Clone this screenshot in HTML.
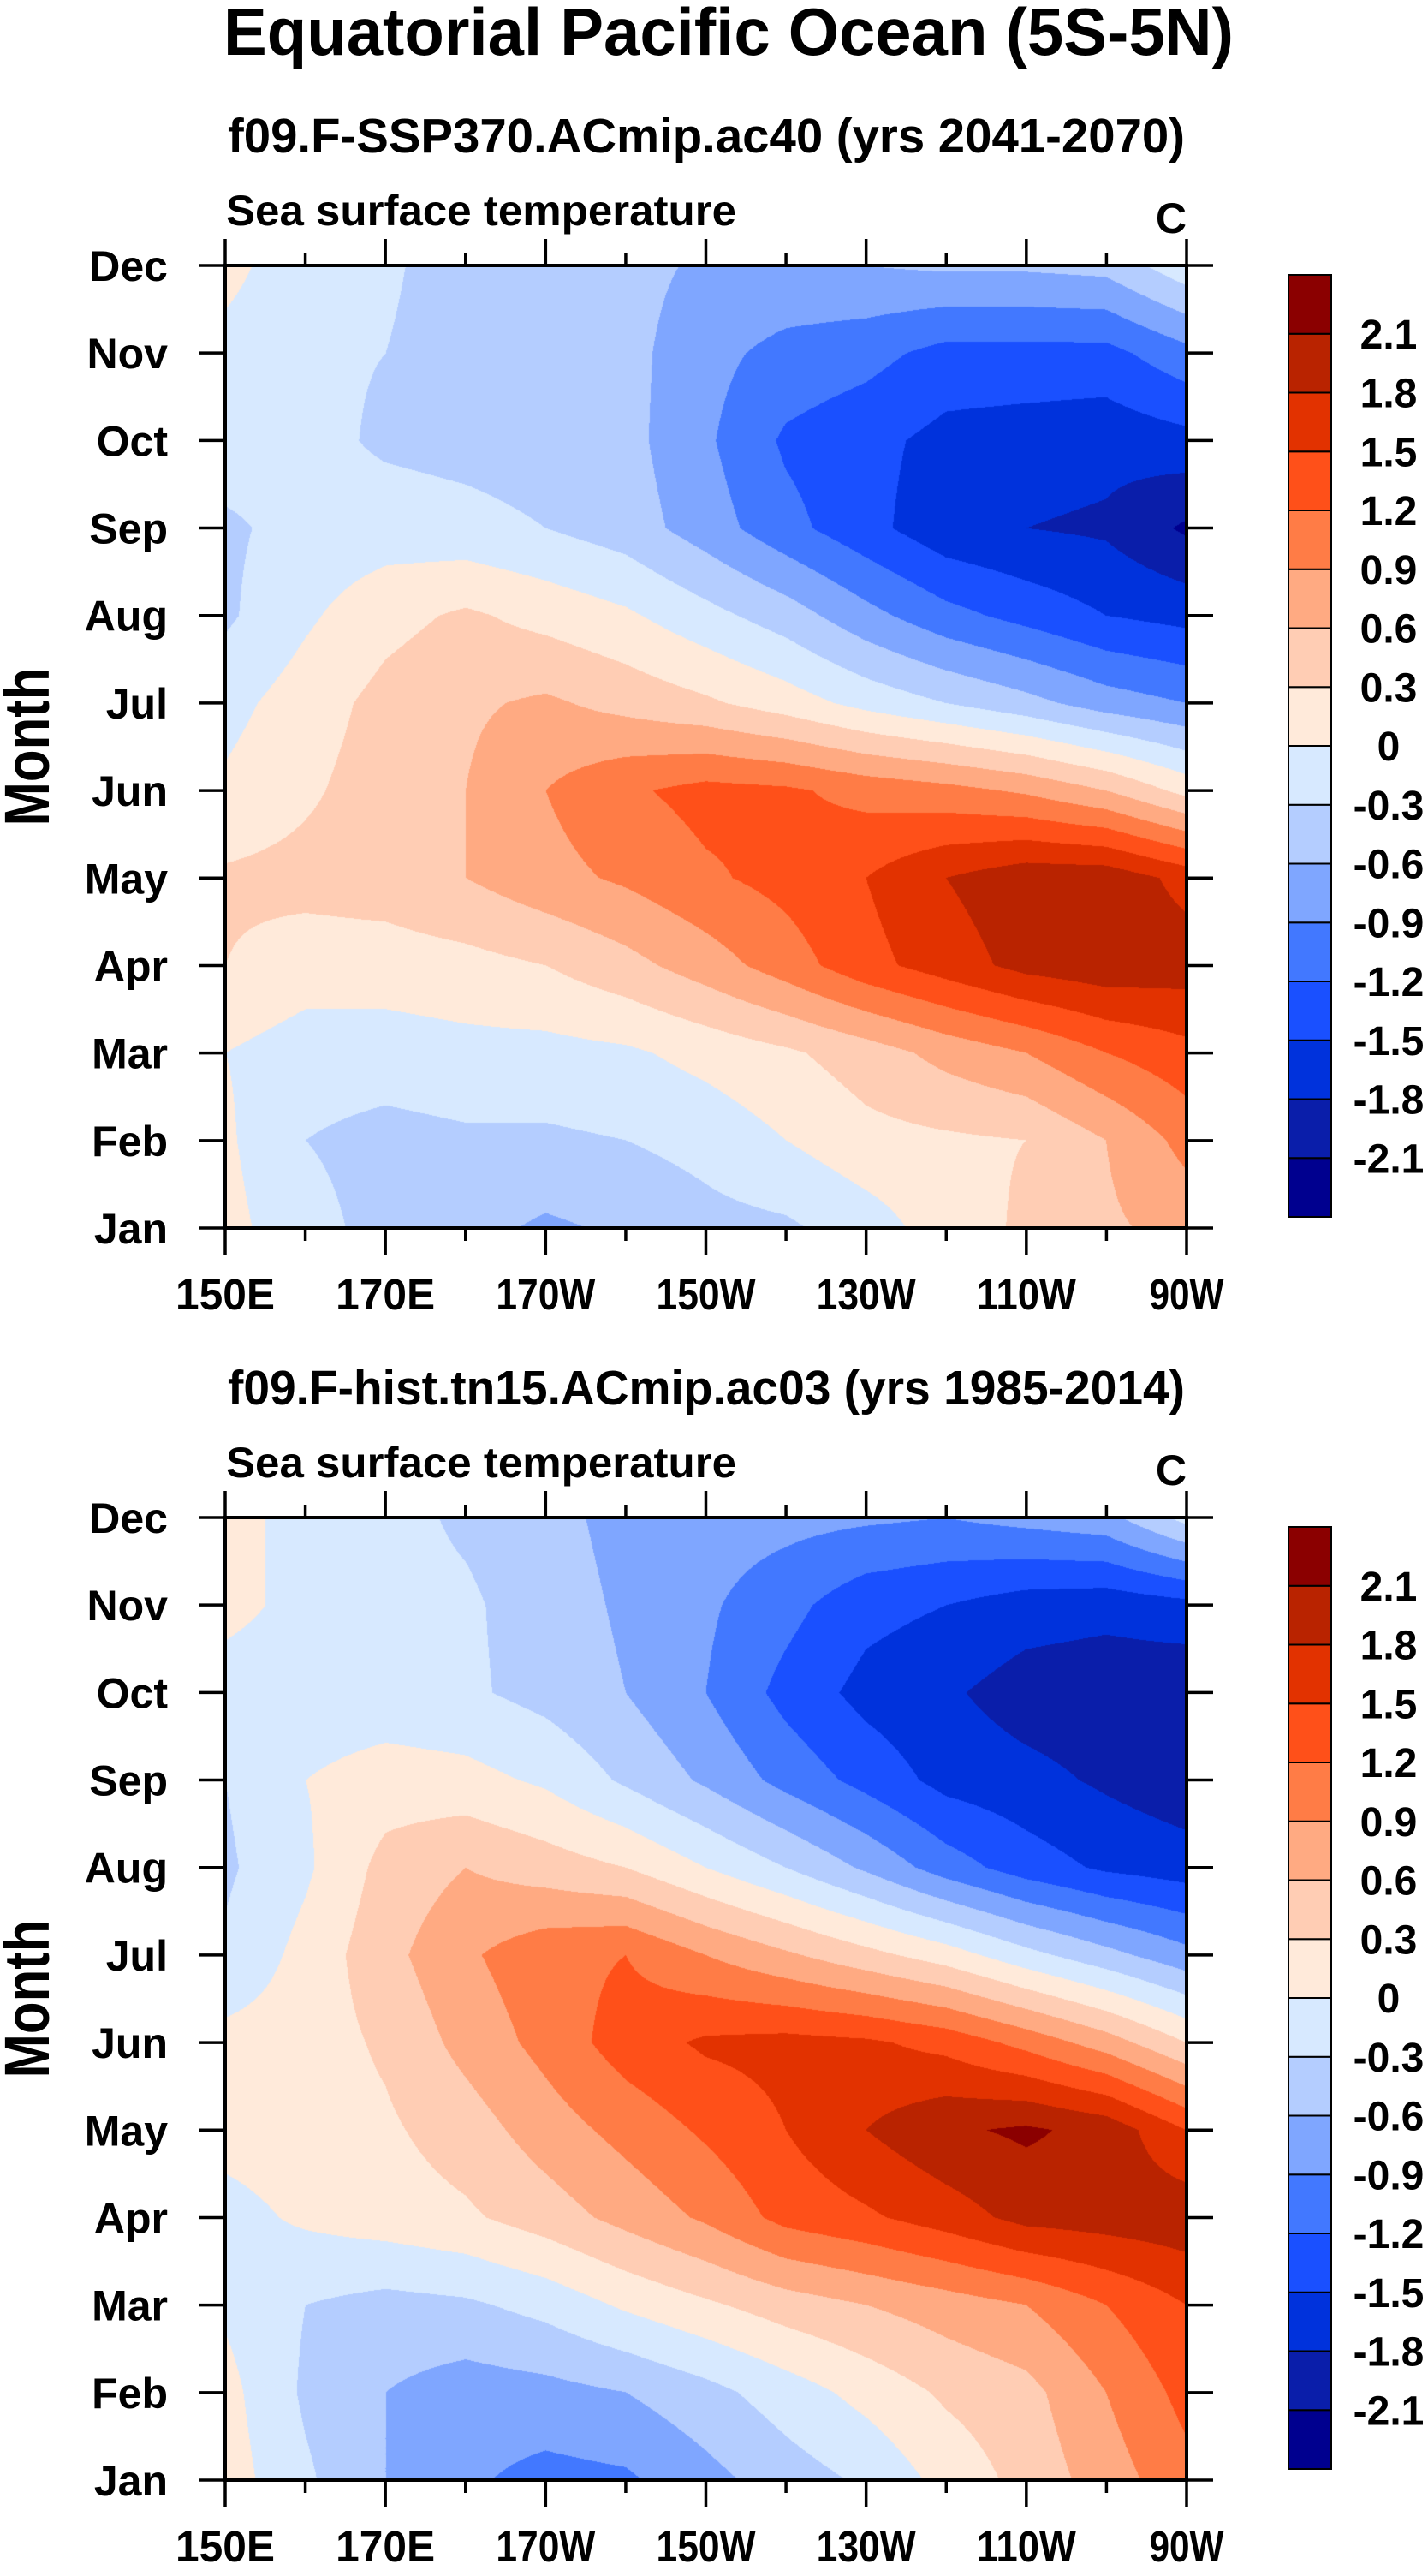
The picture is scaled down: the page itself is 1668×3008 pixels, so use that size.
<!DOCTYPE html>
<html><head><meta charset="utf-8">
<style>
html,body{margin:0;padding:0;background:#fff;}
#wrap{position:relative;width:1668px;height:3008px;overflow:hidden;background:#fff;}
canvas{position:absolute;}
svg{position:absolute;left:0;top:0;}
text{font-family:"Liberation Sans",Arial,sans-serif;font-weight:bold;fill:#000;}
</style></head>
<body>
<div id="wrap">
<canvas id="c1" width="1123" height="1124" style="left:263px;top:310px"></canvas>
<canvas id="c2" width="1123" height="1124" style="left:263px;top:1772px"></canvas>
<svg id="ov" width="1668" height="3008"></svg>
</div>
<script>
// ---- data ----
const lonLabels = ["150E","170E","170W","150W","130W","110W","90W"];
const monthLabels = ["Jan","Feb","Mar","Apr","May","Jun","Jul","Aug","Sep","Oct","Nov","Dec"];
const levels = [-2.1,-1.8,-1.5,-1.2,-0.9,-0.6,-0.3,0,0.3,0.6,0.9,1.2,1.5,1.8,2.1];
const levelLabels = ["-2.1","-1.8","-1.5","-1.2","-0.9","-0.6","-0.3","0","0.3","0.6","0.9","1.2","1.5","1.8","2.1"];
const colors = ["#00008f","#0a1eaa","#0032dc","#1a50ff","#4278ff","#7fa6ff","#b4cdff","#d7e9ff","#ffeada","#ffcdb4","#ffaa82","#ff7c46","#ff5019","#e23200","#b92300","#8b0000"];
// longitudes 150E..90W every 10 deg (columns), months Jan..Dec (rows)
const lons = [150,160,170,180,190,200,210,220,230,240,250,260,270];
const sstA = [
 [0.1,-0.2,-0.4,-0.5,-0.65,-0.55,-0.4,-0.35,-0.15,0.15,0.35,0.55,0.7],
 [0.05,-0.3,-0.4,-0.35,-0.35,-0.3,-0.2,0.0,0.2,0.25,0.3,0.6,1.0],
 [0.0,-0.15,-0.15,-0.1,-0.1,-0.05,0.1,0.25,0.45,0.7,0.9,1.2,1.4],
 [0.3,0.15,0.15,0.2,0.3,0.5,0.75,1.05,1.4,1.65,1.9,2.0,1.95],
 [0.35,0.4,0.45,0.6,0.8,0.95,1.15,1.3,1.5,1.8,2.0,2.0,1.7],
 [0.05,0.25,0.45,0.6,0.9,1.15,1.3,1.25,1.1,1.0,0.85,0.6,0.2],
 [-0.1,0.15,0.4,0.55,0.65,0.5,0.35,0.15,-0.1,-0.3,-0.5,-0.75,-0.9],
 [-0.35,-0.05,0.2,0.35,0.2,0.05,-0.2,-0.45,-0.8,-1.1,-1.3,-1.5,-1.6],
 [-0.35,-0.2,-0.15,-0.2,-0.3,-0.45,-0.75,-1.1,-1.4,-1.7,-1.8,-1.85,-2.15],
 [-0.15,-0.2,-0.35,-0.4,-0.45,-0.5,-0.85,-1.25,-1.4,-1.6,-1.65,-1.7,-1.6],
 [-0.1,-0.25,-0.3,-0.45,-0.45,-0.5,-0.8,-1.0,-1.1,-1.3,-1.3,-1.3,-1.0],
 [0.1,-0.2,-0.25,-0.45,-0.45,-0.5,-0.65,-0.65,-0.6,-0.55,-0.55,-0.5,-0.1]
];
const sstB = [
 [0.15,-0.25,-0.6,-0.85,-1.0,-0.95,-0.7,-0.45,-0.25,0.1,0.4,0.75,1.1],
 [0.1,-0.35,-0.6,-0.75,-0.7,-0.6,-0.4,-0.15,0.1,0.35,0.5,0.9,1.3],
 [-0.05,-0.3,-0.4,-0.35,-0.2,0.05,0.25,0.45,0.6,0.75,0.9,1.2,1.5],
 [-0.1,0.05,0.15,0.25,0.45,0.7,0.95,1.3,1.45,1.65,1.9,1.95,2.0],
 [0.1,0.15,0.25,0.45,0.75,1.0,1.25,1.5,1.8,2.05,2.15,2.0,1.5],
 [0.1,0.15,0.35,0.7,1.0,1.35,1.55,1.6,1.55,1.4,1.1,0.75,0.3],
 [-0.25,0.1,0.5,0.85,1.1,1.2,0.9,0.65,0.4,0.15,-0.2,-0.5,-0.8],
 [-0.35,-0.05,0.4,0.6,0.45,0.3,0.0,-0.3,-0.65,-1.05,-1.35,-1.55,-1.65],
 [-0.3,0.0,0.15,0.1,-0.05,-0.35,-0.65,-1.0,-1.3,-1.6,-1.7,-1.85,-2.0],
 [-0.15,-0.2,-0.2,-0.25,-0.4,-0.6,-0.9,-1.3,-1.6,-1.75,-1.95,-2.0,-2.05],
 [0.1,-0.1,-0.2,-0.25,-0.45,-0.65,-0.85,-1.1,-1.4,-1.5,-1.65,-1.7,-1.6],
 [0.1,-0.1,-0.2,-0.35,-0.5,-0.7,-0.75,-0.8,-0.85,-0.9,-0.8,-0.7,-0.2]
];

// ---- geometry ----
const X0=263, X1=1386, W=X1-X0, H=1124;
const lonMin=150, lonMax=270;
function xScale(lon){return X0+(lon-lonMin)/(lonMax-lonMin)*W;}
function yScale(m,top){return top+H-(m/11)*H;}
function colorIndex(v){let i=0;while(i<levels.length&&v>=levels[i])i++;return i;}
function hex(c){return [parseInt(c.substr(1,2),16),parseInt(c.substr(3,2),16),parseInt(c.substr(5,2),16)];}
const rgb=colors.map(hex);

function drawField(id,data){
  const cv=document.getElementById(id),ctx=cv.getContext('2d');
  const img=ctx.createImageData(cv.width,cv.height),d=img.data;
  const nc=lons.length;
  for(let py=0;py<cv.height;py++){
    const m=(cv.height-1-py)/(cv.height-1)*11;
    const r0=Math.min(10,Math.floor(m)),fr=m-r0;
    for(let px=0;px<cv.width;px++){
      const lon=lonMin+px/(cv.width-1)*(lonMax-lonMin);
      const cf=(lon-lons[0])/10;
      const c0=Math.min(nc-2,Math.floor(cf)),fc=cf-c0;
      const v=(data[r0][c0]*(1-fc)+data[r0][c0+1]*fc)*(1-fr)+(data[r0+1][c0]*(1-fc)+data[r0+1][c0+1]*fc)*fr;
      const c=rgb[colorIndex(v)];const k=(py*cv.width+px)*4;
      d[k]=c[0];d[k+1]=c[1];d[k+2]=c[2];d[k+3]=255;
    }
  }
  ctx.putImageData(img,0,0);
}
drawField('c1',sstA);
drawField('c2',sstB);

const NS='http://www.w3.org/2000/svg';
const ov=document.getElementById('ov');
function el(tag,attrs,parent){const e=document.createElementNS(NS,tag);for(const k in attrs)e.setAttribute(k,attrs[k]);(parent||ov).appendChild(e);return e;}
function txt(s,attrs,parent){const e=el('text',attrs,parent);e.textContent=s;return e;}

const title=txt("Equatorial Pacific Ocean (5S-5N)",{x:851,y:64,'font-size':78,'text-anchor':'middle',textLength:1180,lengthAdjust:'spacingAndGlyphs'});



function panel(top,subtitle,name){
  const off=top-310;
  const g=el('g',{});
  
  
  const st=txt(subtitle,{x:825,y:178+off,'font-size':57,'text-anchor':'middle',textLength:1118,lengthAdjust:'spacingAndGlyphs'},g);
  
  
  const lt=txt("Sea surface temperature",{x:264,y:263+off,'font-size':50,textLength:596,lengthAdjust:'spacingAndGlyphs'},g);
  
  
  const ut=txt("C",{x:1386,y:272+off,'font-size':50,'text-anchor':'end'},g);
  
  
  const yt=txt("Month",{x:0,y:0,'font-size':74,'text-anchor':'middle',transform:`translate(57,${872+off}) rotate(-90)`,textLength:185,lengthAdjust:'spacingAndGlyphs'},g);
  
  
  for(let lon=lonMin;lon<=lonMax;lon+=10){
    const x=xScale(lon);const major=((lon-lonMin)%20===0);const L=major?31:15;
    const t1=el('line',{x1:x,x2:x,y1:top,y2:top-L,stroke:'#000','stroke-width':3.5},g);
    
    
    const t2=el('line',{x1:x,x2:x,y1:top+H,y2:top+H+L,stroke:'#000','stroke-width':3.5},g);
    
    
  }
  lonLabels.forEach((s,i)=>{
    const t=txt(s,{x:xScale(lonMin+i*20),y:top+H+95,'font-size':51,'text-anchor':'middle',textLength:s.length*29,lengthAdjust:'spacingAndGlyphs'},g);
    
    
  });
  monthLabels.forEach((s,i)=>{
    const y=yScale(i,top);
    const a=el('line',{x1:X0,x2:X0-31,y1:y,y2:y,stroke:'#000','stroke-width':3.5},g);
    
    
    const b=el('line',{x1:X1,x2:X1+31,y1:y,y2:y,stroke:'#000','stroke-width':3.5},g);
    
    
    const t=txt(s,{x:196,y:y+18,'font-size':50,'text-anchor':'end'},g);
    
    
  });
  const fr=el('rect',{x:X0,y:top,width:W,height:H,fill:'none',stroke:'#000','stroke-width':4},g);
  
  
  const cbTop=321+off,cbH=1100,cbX=1505,cbW=50,bh=cbH/colors.length;
  const cb=el('g',{},g);
  
  
  colors.forEach((c,i)=>{
    const r=el('rect',{x:cbX,y:cbTop+cbH-(i+1)*bh,width:cbW,height:bh,fill:c,stroke:'#000','stroke-width':2},cb);
    
    
  });
  levelLabels.forEach((s,i)=>{
    const y=cbTop+cbH-(i+1)*bh;
    const t=txt(s,{x:1622,y:y+17,'font-size':48,'text-anchor':'middle'},cb);
    
    
  });
}
panel(310,"f09.F-SSP370.ACmip.ac40 (yrs 2041-2070)","panel-ssp370");
panel(1772,"f09.F-hist.tn15.ACmip.ac03 (yrs 1985-2014)","panel-hist");
</script>
</body></html>
